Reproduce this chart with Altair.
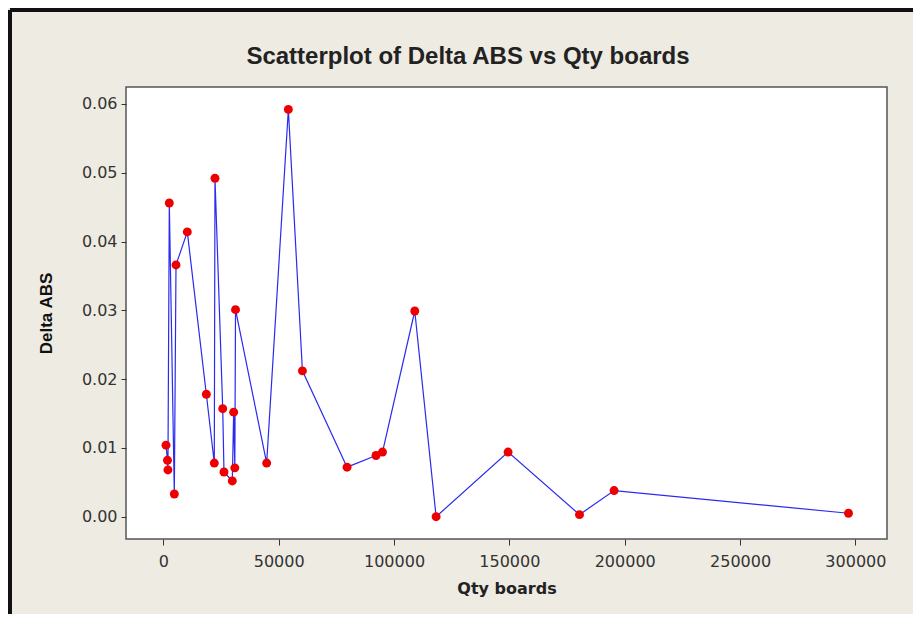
import altair as alt
import pandas as pd

qty_boards = [1170, 1800, 2000, 2600, 4770, 5500, 10400, 18650, 22100, 22400,
              25750, 26300, 29900, 30500, 31000, 31300, 44800, 54200, 60300,
              79650, 92200, 95000, 109000, 118250, 149450, 180400, 195400, 297000]
delta_abs = [0.0104, 0.0082, 0.0068, 0.0456, 0.0033, 0.0366, 0.0414, 0.0178,
             0.0078, 0.0492, 0.0157, 0.0065, 0.0052, 0.0152, 0.0071, 0.0301,
             0.0078, 0.0592, 0.0212, 0.0072, 0.0089, 0.0094, 0.0299, 0.0000,
             0.0094, 0.0003, 0.0038, 0.0005]
x_ticks = [0, 50000, 100000, 150000, 200000, 250000, 300000]
y_ticks = [0.00, 0.01, 0.02, 0.03, 0.04, 0.05, 0.06]
title_text = "Scatterplot of Delta ABS vs Qty boards"

df = pd.DataFrame({"Qty boards": qty_boards, "Delta ABS": delta_abs})

FONT = "DejaVu Sans"

x_enc = alt.X("Qty boards:Q",
              scale=alt.Scale(domain=[-16175, 313700], nice=False, zero=False),
              axis=alt.Axis(values=x_ticks, format="d", grid=False, domain=False,
                            tickColor="#333", tickSize=6, labelPadding=8,
                            labelFont=FONT, labelFontSize=16, labelColor="#333",
                            title="Qty boards", titleFont=FONT, titleFontSize=16,
                            titleFontWeight="bold", titleColor="#222", titlePadding=11))
y_enc = alt.Y("Delta ABS:Q",
              scale=alt.Scale(domain=[-0.00324, 0.06246], nice=False, zero=False),
              axis=alt.Axis(values=y_ticks, format=".2f", grid=False, domain=False,
                            tickColor="#333", tickSize=5, labelPadding=4,
                            labelFont=FONT, labelFontSize=16, labelColor="#333",
                            title="Delta ABS", titleFont="Liberation Sans",
                            titleFontSize=17, titleFontWeight="bold",
                            titleColor="#111", titlePadding=26))

line = alt.Chart(df).mark_line(color="#2a2af0", strokeWidth=1.2).encode(
    x=x_enc, y=y_enc, order=alt.Order("Qty boards:Q"))
pts = alt.Chart(df).mark_point(filled=True, color="#ee0000", size=80, opacity=1).encode(
    x="Qty boards:Q", y="Delta ABS:Q")

title_df = pd.DataFrame({"t": [title_text]})
title = alt.Chart(title_df).mark_text(
    font="Liberation Sans", fontSize=24, fontWeight="bold", color="#222",
    align="center", baseline="middle").encode(
    text="t:N", x=alt.value(342), y=alt.value(-30))

frame_top = alt.Chart(df).mark_rule(color="#111", strokeWidth=3).encode(
    x=alt.value(-116), x2=alt.value(800), y=alt.value(-77))
frame_left = alt.Chart(df).mark_rule(color="#111", strokeWidth=3).encode(
    x=alt.value(-116), y=alt.value(-77), y2=alt.value(560))

chart = alt.layer(frame_top, frame_left, line, pts, title).properties(
    width=761, height=452,
    autosize=alt.AutoSizeParams(type="none"),
    padding={"left": 118, "top": 79, "right": 26, "bottom": 75},
    background="#eeebe2",
).configure_view(fill="white", stroke="#555", strokeWidth=1.5)

chart.save("out.html", embed_options={"renderer": "svg", "actions": False})
